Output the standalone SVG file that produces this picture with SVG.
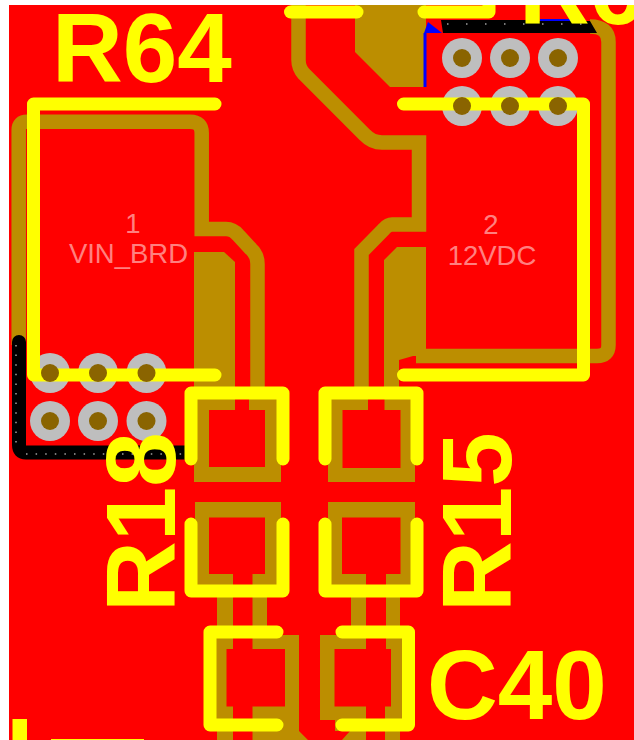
<svg xmlns="http://www.w3.org/2000/svg" width="634" height="740" viewBox="0 0 634 740">
<style>
.trace{fill:none;stroke:#BC8E00;stroke-width:14.5}
.cu{fill:#BC8E00;fill-rule:evenodd}
.pad{fill:#BEBEBE}
.hole{fill:#8A6400}
.line{fill:none;stroke:#FFFF00;stroke-width:13;stroke-linecap:round;stroke-linejoin:round}
.ref{fill:#FFFF00;font-family:"Liberation Sans",Arial,sans-serif;font-weight:700;font-size:98px}
.lbl{fill:#FF8080;font-family:"Liberation Sans",Arial,sans-serif;font-size:27.5px;text-anchor:middle}
.dots{fill:none;stroke:#A0A0A0;stroke-width:1.5}
</style>
<defs><clipPath id="board"><rect x="9" y="5" width="625" height="735"/></clipPath></defs>
<rect width="634" height="740" fill="#FFFFFF"/>
<g clip-path="url(#board)">
<rect x="9" y="5" width="625" height="735" fill="#FF0000"/>
<g id="copper">
<path class="trace" d="M18.700,345V130Q18.700,121.700 27,121.700H190Q201.700,121.700 201.700,133V229H226Q233,229 238,235L251,249Q257.500,255 257.500,264V396"/>
<path class="cu" d="M194,252H224L235,262V394H194Z"/>
<path class="trace" d="M298.500,0V60Q298.500,68 304,74L365,135Q372,142.500 382,142.500H419V224.500H392Q388,224.500 384,229L361.500,252V396"/>
<path class="cu" d="M355,0H426V87H390L355,52Z"/>
<path class="cu" d="M397,247H426V356H413L399,360V387H384V260Z"/>
<path class="trace" d="M590,26.500Q608.500,26.500 608.500,42V345Q608.500,356 597,356H416"/>
<path class="cu" d="M194,387H281V482H194ZM209,410H235V387H249V410H265V467H209Z"/>
<path class="cu" d="M328,387H415V482H328ZM342.500,410H368V387H384.500V410H400.500V468H342.500Z"/>
<path class="cu" d="M195,502H281V591H267V632H252.500V574H265V517.500H209V574H233V632H217V591H195Z"/>
<path class="cu" d="M328,502H415V591H400V632H386V574H400.500V517.500H342V574H366V632H351V591H328Z"/>
<path class="cu" d="M212,632H233V649H226.500V706.500H233V740H217V728H212Z"/>
<path class="cu" d="M252.500,632H280V635H299V731L308,740H252.500V706.500H285V649H252.500Z"/>
<path class="cu" d="M320,635H342V632H366V649H334.500V706.500H366V740H342L350,731H335V720H320Z"/>
<path class="cu" d="M386,632H405V728H400V740H385V706.500H391V649H386Z"/>
</g>
<g id="edges">
<path d="M19,342V445Q19,452.500 26,452.500H186" fill="none" stroke="#000000" stroke-width="14" stroke-linecap="round"/>
<path class="dots" d="M16,345V444M26,454H186" stroke-dasharray="1.5 8.1"/>
<path d="M424,33L428,22L442,33Z" fill="#0000FF"/>
<rect x="423.500" y="33" width="3" height="54" fill="#0000FF"/>
<rect x="540" y="19" width="31" height="2" fill="#0000FF"/>
<path d="M441,20H536V21H590L597,33H443Z" fill="#000000"/>
<path class="dots" d="M447,24H592" stroke-dasharray="1.5 17.5"/>
</g>
<g id="pads-j1">
<circle class="pad" cx="50" cy="373" r="20"/><circle class="pad" cx="98" cy="373" r="20"/><circle class="pad" cx="146.500" cy="373" r="20"/>
<circle class="pad" cx="50" cy="421" r="20"/><circle class="pad" cx="98" cy="421" r="20"/><circle class="pad" cx="146.500" cy="421" r="20"/>
</g>
<g id="pads-j2">
<circle class="pad" cx="462" cy="58" r="20"/><circle class="pad" cx="510" cy="58" r="20"/><circle class="pad" cx="558" cy="58" r="20"/>
<circle class="pad" cx="462" cy="106" r="20"/><circle class="pad" cx="510" cy="106" r="20"/><circle class="pad" cx="558" cy="106" r="20"/>
</g>
<g id="silkscreen">
<path class="line" d="M290.500,12H357"/>
<path class="line" d="M424,12H489V0"/>
<path class="line" d="M215,104H33.500V375H215"/>
<path class="line" d="M403.500,104H583.500V375H403.500"/>
<path class="line" d="M191,459V393H283V459"/>
<path class="line" d="M325,459V393H417V459"/>
<path class="line" d="M191,524V591H283V524"/>
<path class="line" d="M325,524V591H417V524"/>
<path class="line" d="M277,632H210V725H277"/>
<path class="line" d="M342,632H408.500V725H342"/>
<rect x="12.500" y="719" width="14.500" height="21" fill="#FFFF00"/>
<rect x="51" y="739" width="93" height="1" fill="#FFFF00"/>
<text class="ref" x="52" y="82">R64</text>
<text class="ref" x="519" y="24">R6</text>
<text class="ref" transform="translate(175 612) rotate(-90)">R18</text>
<text class="ref" transform="translate(511 612) rotate(-90)">R15</text>
<text class="ref" x="427" y="719">C40</text>
</g>
<g id="holes">
<circle class="hole" cx="50" cy="373" r="9"/><circle class="hole" cx="98" cy="373" r="9"/><circle class="hole" cx="146.500" cy="373" r="9"/>
<circle class="hole" cx="50" cy="421" r="9"/><circle class="hole" cx="98" cy="421" r="9"/><circle class="hole" cx="146.500" cy="421" r="9"/>
<circle class="hole" cx="462" cy="58" r="9"/><circle class="hole" cx="510" cy="58" r="9"/><circle class="hole" cx="558" cy="58" r="9"/>
<circle class="hole" cx="462" cy="106" r="9"/><circle class="hole" cx="510" cy="106" r="9"/><circle class="hole" cx="558" cy="106" r="9"/>
</g>
<g id="labels">
<text class="lbl" x="133" y="233">1</text>
<text class="lbl" x="128.500" y="263">VIN_BRD</text>
<text class="lbl" x="491" y="234">2</text>
<text class="lbl" x="492" y="265">12VDC</text>
</g>
</g>
</svg>
